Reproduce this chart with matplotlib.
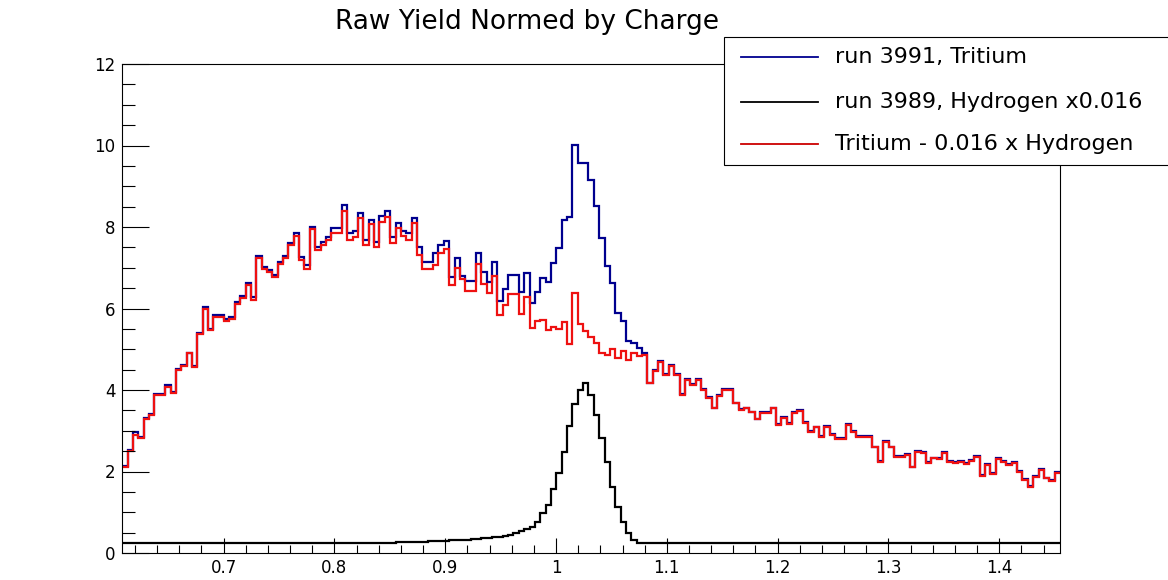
import matplotlib.pyplot as plt
import numpy as np
from matplotlib.patches import Rectangle
from matplotlib.lines import Line2D
from matplotlib.ticker import MultipleLocator

# histogram range (x)
x_lo, x_hi = 0.6086, 1.4548

# run 3991, Tritium
tritium = [
    2.13, 2.52, 2.97, 2.85, 3.32, 3.41, 3.90, 3.90, 4.12, 3.95, 4.51,
    4.61, 4.92, 4.60, 5.39, 6.04, 5.49, 5.84, 5.84, 5.74, 5.80,
    6.16, 6.30, 6.62, 6.28, 7.30, 7.03, 6.95, 6.83, 7.15, 7.29, 7.60, 7.85,
    7.27, 7.07, 8.01, 7.52, 7.64, 7.76, 7.97, 7.97, 8.54, 7.86,
    7.91, 8.35, 7.68, 8.17, 7.64, 8.27, 8.39, 7.76, 8.11, 7.91,
    7.86, 8.23, 7.52, 7.15, 7.15, 7.35, 7.56, 7.65, 6.78,
    7.23, 6.80, 6.68, 6.68, 7.37, 6.90, 6.66, 7.15, 6.19, 6.47,
    6.82, 6.82, 6.41, 6.86, 6.14, 6.41, 6.74, 6.64, 7.11, 7.48,
    8.17, 8.24, 10.01,
    9.58, 9.56, 9.15, 8.52, 7.72, 7.04, 6.63, 5.88, 5.70, 5.21, 5.15, 5.02, 4.90,
    4.18, 4.49, 4.71, 4.39, 4.61, 4.39, 3.90, 4.27, 4.14, 4.27,
    4.02, 3.82, 3.57, 3.87, 4.02, 4.02, 3.69, 3.53, 3.57, 3.47,
    3.30, 3.46, 3.46, 3.57, 3.16, 3.34, 3.19, 3.46, 3.51, 3.22,
    3.00, 3.10, 2.87, 3.12, 2.92, 2.81, 2.81, 3.16, 3.00, 2.87,
    2.86, 2.86, 2.61, 2.26, 2.75, 2.61, 2.37, 2.38, 2.42, 2.12,
    2.51, 2.48, 2.24, 2.34, 2.32, 2.47, 2.26, 2.24, 2.26, 2.20,
    2.28, 2.38, 1.91, 2.18, 1.96, 2.32, 2.26, 2.18, 2.24, 2.02,
    1.81, 1.65, 1.89, 2.06, 1.85, 1.79, 1.99,
]

# run 3989, Hydrogen x0.016
hydrogen = [
    0.25, 0.25, 0.25, 0.25, 0.25, 0.25, 0.25, 0.25, 0.25, 0.25,
    0.25, 0.25, 0.25, 0.25, 0.25, 0.25, 0.25, 0.25, 0.25, 0.25,
    0.25, 0.25, 0.25, 0.25, 0.25, 0.25, 0.25, 0.25, 0.25, 0.25,
    0.25, 0.25, 0.25, 0.25, 0.25, 0.25, 0.25, 0.25, 0.25, 0.25,
    0.25, 0.25, 0.25, 0.25, 0.25, 0.25, 0.25, 0.25, 0.25, 0.25,
    0.25,
    0.26, 0.26, 0.27, 0.27, 0.28, 0.28, 0.29, 0.29,
    0.30, 0.30, 0.31, 0.32, 0.32, 0.33, 0.34, 0.35,
    0.36, 0.37, 0.39, 0.40, 0.42, 0.45, 0.48, 0.53, 0.58, 0.65,
    0.77, 0.97, 1.18, 1.56, 1.97, 2.49, 3.12, 3.66, 4.00, 4.16,
    3.88, 3.39, 2.81, 2.24, 1.63, 1.14, 0.77, 0.48, 0.32, 0.25,
    0.25, 0.25, 0.25, 0.25, 0.25, 0.25, 0.25, 0.25, 0.25, 0.25,
    0.25, 0.25, 0.25, 0.25, 0.25, 0.25, 0.25, 0.25, 0.25, 0.25,
    0.25, 0.25, 0.25, 0.25, 0.25, 0.25, 0.25, 0.25, 0.25, 0.25,
    0.25, 0.25, 0.25, 0.25, 0.25, 0.25, 0.25, 0.25, 0.25, 0.25,
    0.25, 0.25, 0.25, 0.25, 0.25, 0.25, 0.25, 0.25, 0.25, 0.25,
    0.25, 0.25, 0.25, 0.25, 0.25, 0.25, 0.25, 0.25, 0.25, 0.25,
    0.25, 0.25, 0.25, 0.25, 0.25, 0.25, 0.25, 0.25, 0.25, 0.25,
    0.25, 0.25, 0.25, 0.25, 0.25, 0.25, 0.25, 0.25,
]

# Tritium - 0.016 x Hydrogen
subtracted = [
    2.11, 2.50, 2.90, 2.82, 3.29, 3.39, 3.88, 3.88, 4.07, 3.93, 4.49,
    4.58, 4.90, 4.57, 5.37, 6.00, 5.47, 5.80, 5.80, 5.70, 5.74,
    6.12, 6.25, 6.57, 6.22, 7.25, 6.98, 6.90, 6.78, 7.10, 7.23, 7.55, 7.78,
    7.19, 6.96, 7.94, 7.44, 7.56, 7.68, 7.86, 7.86, 8.40, 7.68,
    7.76, 8.21, 7.56, 8.07, 7.52, 8.13, 8.25, 7.60, 7.98, 7.78,
    7.68, 8.09, 7.31, 6.96, 6.96, 7.07, 7.37, 7.45, 6.58,
    6.99, 6.72, 6.43, 6.43, 7.09, 6.60, 6.37, 6.80, 5.84, 6.09,
    6.36, 6.36, 5.87, 6.29, 5.51, 5.70, 5.72, 5.47, 5.55, 5.50,
    5.68, 5.14, 6.38,
    5.62, 5.45, 5.30, 5.15, 4.92, 4.86, 5.00, 4.78, 4.96, 4.74, 4.92, 4.83, 4.86,
    4.16, 4.47, 4.69, 4.37, 4.59, 4.37, 3.88, 4.25, 4.12, 4.25,
    4.00, 3.80, 3.55, 3.85, 4.00, 4.00, 3.67, 3.51, 3.55, 3.45,
    3.28, 3.44, 3.44, 3.55, 3.14, 3.32, 3.17, 3.44, 3.49, 3.20,
    2.98, 3.08, 2.85, 3.10, 2.90, 2.79, 2.79, 3.14, 2.98, 2.85,
    2.84, 2.84, 2.59, 2.24, 2.73, 2.59, 2.35, 2.36, 2.40, 2.10,
    2.49, 2.46, 2.22, 2.32, 2.30, 2.45, 2.24, 2.22, 2.24, 2.18,
    2.26, 2.36, 1.89, 2.16, 1.94, 2.30, 2.24, 2.16, 2.22, 2.00,
    1.79, 1.63, 1.87, 2.04, 1.83, 1.77, 1.97,
]

x_ticks = [0.7, 0.8, 0.9, 1.0, 1.1, 1.2, 1.3, 1.4]
x_labels = ["0.7", "0.8", "0.9", "1", "1.1", "1.2", "1.3", "1.4"]
y_ticks = [0, 2, 4, 6, 8, 10, 12]

legend_labels = ["run 3991, Tritium", "run 3989, Hydrogen x0.016",
                 "Tritium - 0.016 x Hydrogen"]

blue = "#00008f"
red = "#ee1111"

W, H = 1168, 580
fig = plt.figure(figsize=(W / 100, H / 100), dpi=100)
ax = fig.add_axes([122.3 / W, 1 - 553 / H, (1060 - 122.3) / W, (553 - 64) / H])

edges = np.linspace(x_lo, x_hi, len(tritium) + 1)
ax.stairs(tritium, edges, baseline=None, color=blue, lw=1.6)
ax.stairs(hydrogen, edges, baseline=None, color="black", lw=1.6)
ax.stairs(subtracted, edges, baseline=None, color=red, lw=1.6)

ax.set_xlim(x_lo, x_hi)
ax.set_ylim(0, 12)
ax.set_xticks(x_ticks)
ax.set_xticklabels(x_labels)
ax.xaxis.set_minor_locator(MultipleLocator(0.02))
ax.set_yticks(y_ticks)
ax.yaxis.set_minor_locator(MultipleLocator(0.5))
ax.tick_params(axis="x", which="major", direction="in", length=10.8, width=0.8,
               labelsize=12, pad=4)
ax.tick_params(axis="x", which="minor", direction="in", length=5.6, width=0.8)
ax.tick_params(axis="y", which="major", direction="in", length=19.5, width=0.8,
               labelsize=12, pad=5)
ax.tick_params(axis="y", which="minor", direction="in", length=9.5, width=0.8)
ax.tick_params(top=False, right=False, which="both")
for s in ax.spines.values():
    s.set_linewidth(0.8)

fig.text(527 / W, 1 - 22 / H, "Raw Yield Normed by Charge", ha="center",
         va="center", fontsize=19)

# legend box, ROOT style, running off the right edge
box = Rectangle((724 / W, 1 - 165 / H), (1180 - 724) / W, (165 - 37) / H,
                transform=fig.transFigure, facecolor="white", edgecolor="black",
                lw=0.8, zorder=5)
fig.add_artist(box)
rows = [57, 101.5, 143.5]
for lab, col, y in zip(legend_labels, [blue, "black", "#cc0000"], rows):
    fig.add_artist(Line2D([741 / W, 818 / W], [1 - y / H, 1 - y / H],
                          transform=fig.transFigure, color=col, lw=1.3, zorder=6))
    fig.text(835 / W, 1 - y / H, lab, ha="left", va="center", fontsize=16,
             zorder=6)

fig.savefig("out.png", dpi=100)
